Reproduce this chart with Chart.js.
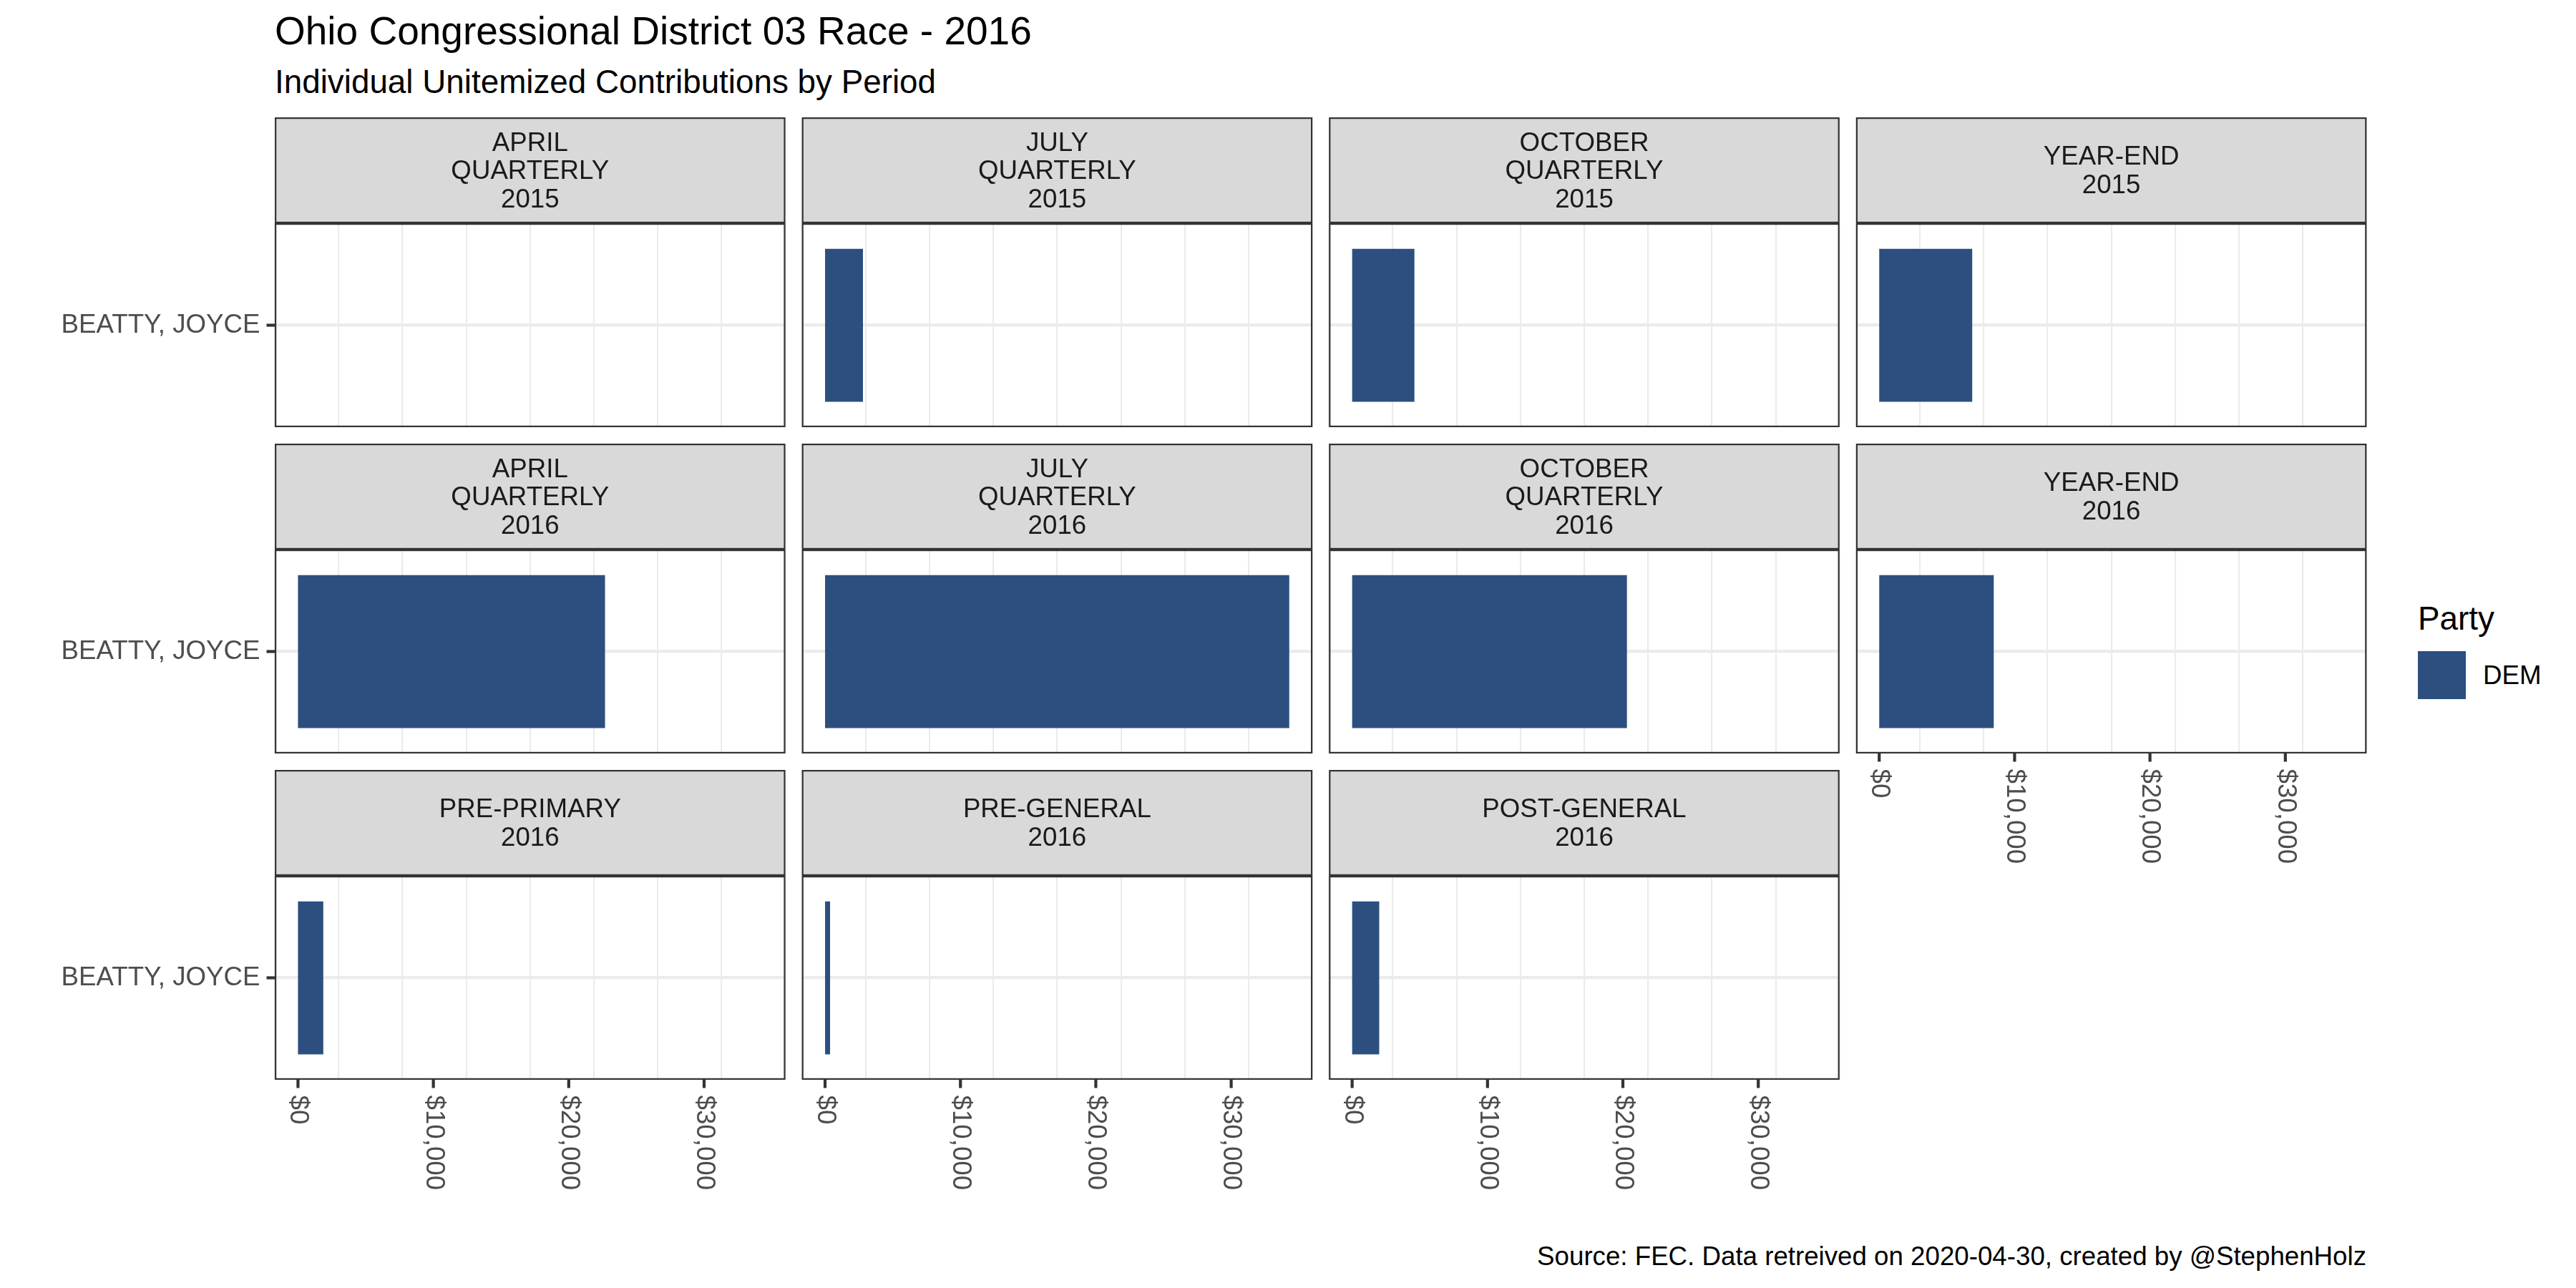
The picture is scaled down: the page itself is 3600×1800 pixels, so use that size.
<!DOCTYPE html>
<html>
<head>
<meta charset="utf-8">
<script src="https://cdn.jsdelivr.net/npm/chart.js@4.4.1/dist/chart.umd.min.js"></script>
<style>
  html, body { margin: 0; padding: 0; background: #ffffff; }
  #page { position: relative; width: 3600px; height: 1800px; overflow: hidden; background: #ffffff;
          font-family: "Liberation Sans", Arial, sans-serif; }
  #page canvas { position: absolute; }
  .txt { position: absolute; white-space: nowrap; line-height: 1; }
</style>
</head>
<body>
<div id="page">
  <div class="txt" style="left:384px;top:16px;font-size:55px;color:#000000;">Ohio Congressional District 03 Race - 2016</div>
  <div class="txt" style="left:384px;top:92px;font-size:45.8px;color:#000000;">Individual Unitemized Contributions by Period</div>
  <div class="txt" style="right:293px;top:1738px;font-size:36.7px;color:#000000;">Source: FEC. Data retreived on 2020-04-30, created by @StephenHolz</div>
  <div class="txt" style="left:3379px;top:842px;font-size:45.8px;color:#000000;">Party</div>
  <div id="legendKey" style="position:absolute;left:3379px;top:910px;width:67px;height:67px;"></div>
  <div class="txt" id="legendLabel" style="left:3470px;top:926px;font-size:36.7px;color:#000000;"></div>
</div>
<script>
// ---------------- data ----------------
const periods = [
  "APRIL\nQUARTERLY\n2015", "JULY\nQUARTERLY\n2015", "OCTOBER\nQUARTERLY\n2015", "YEAR-END\n2015",
  "APRIL\nQUARTERLY\n2016", "JULY\nQUARTERLY\n2016", "OCTOBER\nQUARTERLY\n2016", "YEAR-END\n2016",
  "PRE-PRIMARY\n2016", "PRE-GENERAL\n2016", "POST-GENERAL\n2016"
];
const candidates = ["BEATTY, JOYCE"];
const parties = ["DEM"];
// unitemized individual contributions (USD) for BEATTY, JOYCE in each period
const contributions = [null, 2800, 4600, 6870, 22680, 34290, 20300, 8460, 1870, 370, 2000];
const xTickValues = [0, 10000, 20000, 30000];
const xTickLabels = ["$0", "$10,000", "$20,000", "$30,000"];

// ---------------- styling / layout ----------------
const FONT = '"Liberation Sans", Arial, sans-serif';
const BAR_COLOR = '#2C4F80';
const BORDER = '#333333';
const GRID = '#EBEBEB';
const COLS = 4;
const PANEL_LEFT0 = 384, PANEL_TOP0 = 312;
const PANEL_W = 713.6, PANEL_H = 285;
const COL_PITCH = 736.6, ROW_PITCH = 456;
const STRIP_H = 148;
const TICK_LEN = 11.5;
const LINE_H = 39.6;

document.getElementById('legendKey').style.background = BAR_COLOR;
document.getElementById('legendLabel').textContent = parties[0];

const maxVal = Math.max(...contributions.filter(v => v !== null));
const xMin = -0.05 * maxVal, xMax = 1.05 * maxVal;

function facetPlugin(i, col, bottomAxis) {
  return {
    id: 'facet' + i,
    afterDraw(chart) {
      const ctx = chart.ctx, a = chart.chartArea;
      const xs = chart.scales.x, ys = chart.scales.y;
      ctx.save();
      // panel border (clipped look)
      ctx.strokeStyle = BORDER;
      ctx.lineWidth = 2.2;
      ctx.strokeRect(a.left + 1.1, a.top + 1.1, a.right - a.left - 2.2, a.bottom - a.top - 2.2);
      // strip
      const sTop = a.top - STRIP_H;
      ctx.fillStyle = '#D9D9D9';
      ctx.fillRect(a.left, sTop, a.right - a.left, STRIP_H);
      ctx.strokeRect(a.left + 1.1, sTop + 1.1, a.right - a.left - 2.2, STRIP_H - 2.2);
      const lines = periods[i].split('\n');
      ctx.fillStyle = '#1A1A1A';
      ctx.font = '36.7px ' + FONT;
      ctx.textAlign = 'center';
      ctx.textBaseline = 'middle';
      const cx = (a.left + a.right) / 2, cy = sTop + STRIP_H / 2 + 2;
      lines.forEach((t, k) => ctx.fillText(t, cx, cy + (k - (lines.length - 1) / 2) * LINE_H));
      // y axis (left column only)
      if (col === 0) {
        ys.ticks.forEach((tk, k) => {
          const y = ys.getPixelForTick(k);
          ctx.strokeStyle = BORDER;
          ctx.lineWidth = 4.2;
          ctx.beginPath();
          ctx.moveTo(a.left - TICK_LEN, y);
          ctx.lineTo(a.left, y);
          ctx.stroke();
          ctx.fillStyle = '#4D4D4D';
          ctx.textAlign = 'right';
          ctx.textBaseline = 'middle';
          ctx.fillText(ys.getLabelForValue(tk.value), a.left - TICK_LEN - 9, y);
        });
      }
      // x axis (panels with nothing below)
      if (bottomAxis) {
        xTickValues.forEach((v, k) => {
          const x = xs.getPixelForValue(v);
          ctx.strokeStyle = BORDER;
          ctx.lineWidth = 4.2;
          ctx.beginPath();
          ctx.moveTo(x, a.bottom);
          ctx.lineTo(x, a.bottom + TICK_LEN);
          ctx.stroke();
          ctx.save();
          ctx.translate(x, a.bottom + TICK_LEN + 10);
          ctx.rotate(Math.PI / 2);
          ctx.fillStyle = '#4D4D4D';
          ctx.textAlign = 'left';
          ctx.textBaseline = 'middle';
          ctx.fillText(xTickLabels[k], 0, 0);
          ctx.restore();
        });
      }
      ctx.restore();
    }
  };
}

const page = document.getElementById('page');
periods.forEach((p, i) => {
  const row = Math.floor(i / COLS), col = i % COLS;
  const bottomAxis = (i + COLS) >= periods.length;
  const pl = PANEL_LEFT0 + col * COL_PITCH;
  const pt = PANEL_TOP0 + row * ROW_PITCH;
  const cLeft = col === 0 ? 0 : Math.floor(pl) - 4;
  const cTop = Math.floor(pt - STRIP_H) - 4;
  const padL = pl - cLeft, padT = pt - cTop, padR = 4, padB = bottomAxis ? 200 : 4;
  const cw = Math.ceil(padL + PANEL_W + padR), ch = Math.ceil(padT + PANEL_H + padB);
  const canvas = document.createElement('canvas');
  canvas.width = cw; canvas.height = ch;
  canvas.style.left = cLeft + 'px'; canvas.style.top = cTop + 'px';
  canvas.style.width = cw + 'px'; canvas.style.height = ch + 'px';
  page.appendChild(canvas);

  new Chart(canvas, {
    type: 'bar',
    data: {
      labels: candidates,
      datasets: [{
        label: parties[0],
        data: [contributions[i]],
        backgroundColor: BAR_COLOR,
        borderWidth: 0,
        barPercentage: 0.75,
        categoryPercentage: 1.0
      }]
    },
    options: {
      indexAxis: 'y',
      responsive: false,
      animation: false,
      devicePixelRatio: 1,
      layout: { padding: { left: padL, top: padT, right: padR + (cw - (padL + PANEL_W + padR)), bottom: padB + (ch - (padT + PANEL_H + padB)) } },
      plugins: { legend: { display: false }, tooltip: { enabled: false } },
      scales: {
        x: {
          type: 'linear',
          min: xMin, max: xMax,
          ticks: { display: false, stepSize: 5000, includeBounds: false },
          grid: {
            color: GRID,
            drawTicks: false,
            lineWidth: c => (c.tick && c.tick.value % 10000 === 0) ? 4.2 : 2.1
          },
          border: { display: false },
          afterFit: s => { s.height = 0; }
        },
        y: {
          type: 'category',
          offset: true,
          ticks: { display: false },
          grid: { color: GRID, drawTicks: false, offset: false, lineWidth: 4.2 },
          border: { display: false },
          afterFit: s => { s.width = 0; }
        }
      }
    },
    plugins: [facetPlugin(i, col, bottomAxis)]
  });
});
</script>
</body>
</html>
